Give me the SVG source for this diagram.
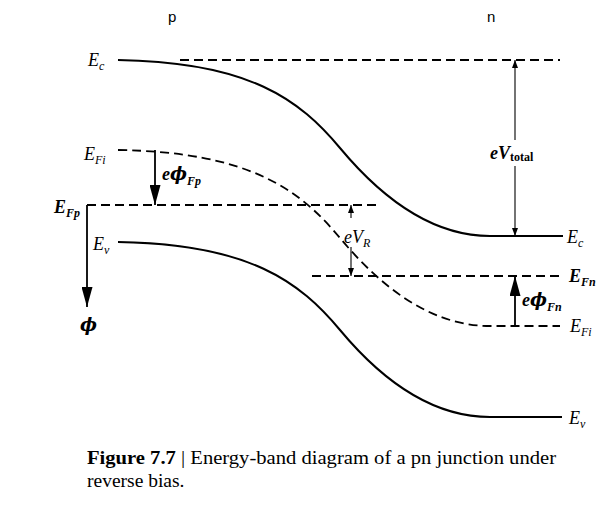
<svg xmlns="http://www.w3.org/2000/svg" width="612" height="513" viewBox="0 0 612 513">
<defs>
<style>
.band{fill:none;stroke:#000;stroke-width:2}
.dash{fill:none;stroke:#000;stroke-width:1.8;stroke-dasharray:9 5}
.thin{fill:none;stroke:#000;stroke-width:1.1}
.thick{fill:none;stroke:#000;stroke-width:1.8}
.lab{font-family:"Liberation Serif","DejaVu Serif",serif;font-style:italic;font-size:18px;fill:#000}
.phi{font-family:"DejaVu Serif",serif}
.bl{font-weight:bold}
.sub{font-size:12px}
.side{font-family:"Liberation Sans",Arial,sans-serif;font-size:15px;fill:#000}
.cap{font-family:"Liberation Serif",serif;font-size:19.5px;fill:#000}
</style>
<marker id="big" viewBox="0 0 20 11" refX="20" refY="5.5" markerUnits="userSpaceOnUse" markerWidth="20" markerHeight="11" orient="auto"><path d="M0,0 L20,5.5 L0,11 z" fill="#000"/></marker>
<marker id="small" viewBox="0 0 8 6" refX="8" refY="3" markerUnits="userSpaceOnUse" markerWidth="8" markerHeight="6" orient="auto-start-reverse"><path d="M0,0 L8,3 L0,6 z" fill="#000"/></marker>
</defs>
<rect width="612" height="513" fill="#fff"/>

<g id="side-labels">
<text class="side" x="168" y="22">p</text>
<text class="side" x="487" y="22">n</text>
</g>

<g id="Ec">
<path class="band" d="M118,60 C250,62 300,100 340,148 S430,236 490,236 L563,236"/>
<path class="dash" d="M180,60 L560,60"/>
<text class="lab" x="88" y="66">E<tspan class="sub" dy="4">c</tspan></text>
<text class="lab" x="567" y="243">E<tspan class="sub" dy="4">c</tspan></text>
</g>

<g id="EFi">
<path class="dash" d="M118,150 C250,152 300,190 340,238 S430,326 490,326 L560,326"/>
<text class="lab" x="84" y="160">E<tspan class="sub" dy="4">Fi</tspan></text>
<text class="lab" x="570" y="332">E<tspan class="sub" dy="4">Fi</tspan></text>
</g>

<g id="EFp">
<path class="dash" d="M87,205 L378,205"/>
<text class="lab bl" x="54" y="213">E<tspan class="sub" dy="4">Fp</tspan></text>
</g>

<g id="EFn">
<path class="dash" d="M312,276 L562,276"/>
<text class="lab bl" x="569" y="282">E<tspan class="sub" dy="4">Fn</tspan></text>
</g>

<g id="Ev">
<path class="band" d="M118,242 C250,244 300,282 340,330 S430,417 490,417 L562,417"/>
<text class="lab" x="93" y="250">E<tspan class="sub" dy="4">v</tspan></text>
<text class="lab" x="569" y="424">E<tspan class="sub" dy="4">v</tspan></text>
</g>

<g id="connectors">
<line class="thick" x1="87" y1="205" x2="87" y2="307" marker-end="url(#big)"/>
<line class="thick" x1="155" y1="150" x2="155" y2="205" marker-end="url(#big)"/>
<line class="thick" x1="515" y1="326" x2="515" y2="276" marker-end="url(#big)"/>
<line class="thin" x1="515" y1="140" x2="515" y2="60" marker-end="url(#small)"/>
<line class="thin" x1="515" y1="166" x2="515" y2="236" marker-end="url(#small)"/>
<line class="thin" x1="351" y1="218" x2="351" y2="205" marker-end="url(#small)"/>
<line class="thin" x1="351" y1="247" x2="351" y2="276" marker-end="url(#small)"/>
</g>

<g id="arrow-labels">
<text class="lab bl" x="80" y="331"><tspan class="phi">ϕ</tspan></text>
<text class="lab bl" x="162" y="180">e<tspan class="phi">ϕ</tspan><tspan class="sub" dy="5">Fp</tspan></text>
<text class="lab bl" x="490" y="159" font-size="20">eV<tspan class="sub" font-style="normal" dy="2">total</tspan></text>
<text class="lab" x="344" y="243" font-size="19">eV<tspan class="sub" dy="4">R</tspan></text>
<text class="lab bl" x="522" y="306">e<tspan class="phi">ϕ</tspan><tspan class="sub" dy="5">Fn</tspan></text>
</g>

<g id="caption">
<text class="cap" x="87" y="464" textLength="469" lengthAdjust="spacingAndGlyphs"><tspan font-weight="bold">Figure 7.7</tspan> | Energy-band diagram of a pn junction under</text>
<text class="cap" x="87" y="487">reverse bias.</text>
</g>
</svg>
